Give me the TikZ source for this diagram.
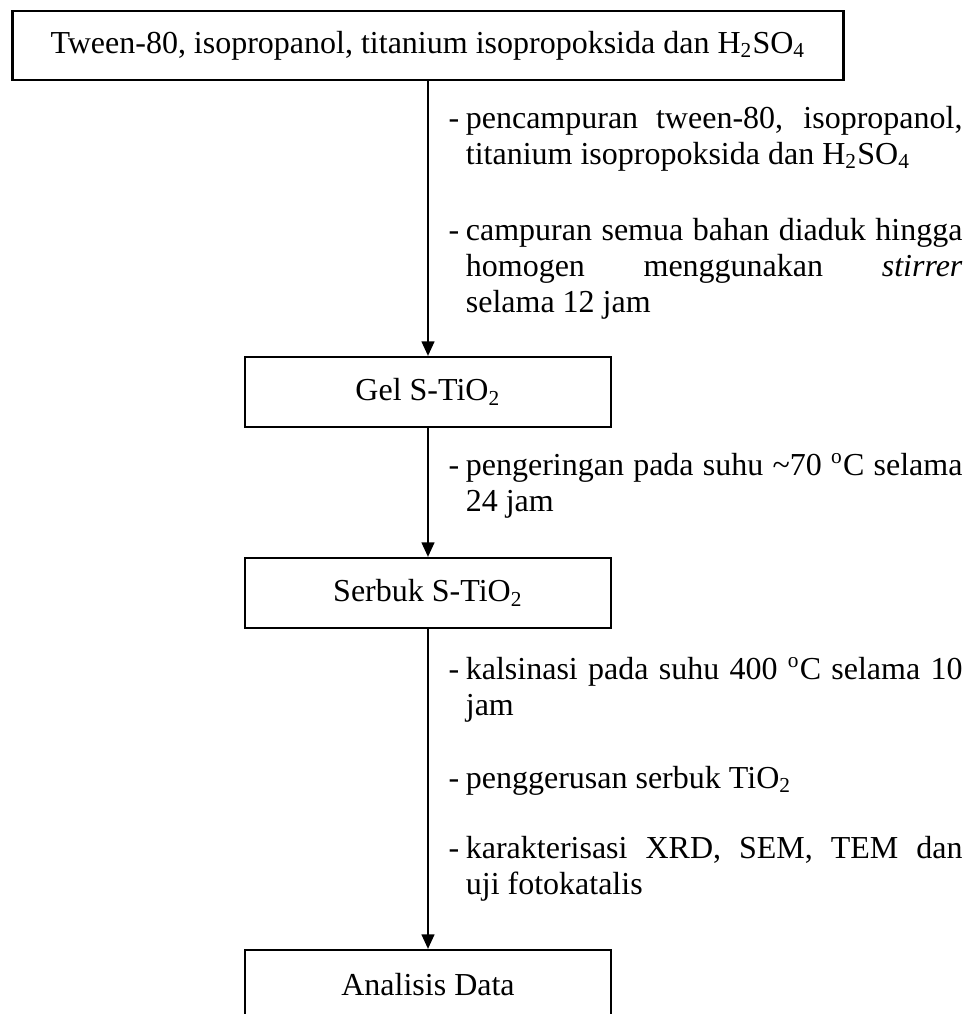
\documentclass[tikz,border=0pt]{standalone}
\usepackage{fontspec}
\setmainfont{Liberation Serif}
\usetikzlibrary{arrows.meta}
\newcommand\itm[1]{\makebox[6.5pt][l]{-}\parbox[t]{186.25pt}{\hyphenpenalty=10000\exhyphenpenalty=10000\tolerance=9999\relax #1}}
\begin{document}
\begin{tikzpicture}[x=0.375pt,y=-0.375pt,
  box/.style={draw,line width=0.8pt,inner sep=0pt,align=center,minimum height=26.25pt,font=\fontsize{12pt}{13.5pt}\selectfont},
  itemtext/.style={inner sep=0pt,anchor=base west,font=\fontsize{12pt}{13.5pt}\selectfont},
  flow/.style={line width=0.8pt,-{Triangle[length=5.5pt,width=4.8pt]}}]
\useasboundingbox (0,0) rectangle (969,1014);
\clip (0,0) rectangle (969,1014);
\node[box,minimum width=311.6pt,minimum height=25.9pt] (top) at (428,45.5) {Tween-80, isopropanol, titanium isopropoksida dan H\textsubscript{2}SO\textsubscript{4}};
\node[box,minimum width=137.25pt] (gel) at (428,392) {Gel S-TiO\textsubscript{2}};
\node[box,minimum width=137.25pt] (serbuk) at (428,593) {Serbuk S-TiO\textsubscript{2}};
\node[box,minimum width=137.25pt] (analisis) at (428,985) {Analisis Data};
\draw[flow] (top.south) -- (gel.north);
\draw[flow] (gel.south) -- (serbuk.north);
\draw[flow] (serbuk.south) -- (analisis.north);
\node[itemtext] (t1) at (448,128) {\itm{pencampuran tween-80, isopropanol,\linebreak titanium isopropoksida dan H\textsubscript{2}SO\textsubscript{4}}};
\node[itemtext] (t2) at (448,240) {\itm{campuran semua bahan diaduk hingga\linebreak homogen menggunakan \textit{stirrer}\linebreak selama 12 jam}};
\node[itemtext] (t3) at (448,475) {\itm{pengeringan pada suhu \textasciitilde70 \textsuperscript{o}C selama\linebreak 24 jam}};
\node[itemtext] (t4) at (448,679) {\itm{kalsinasi pada suhu 400 \textsuperscript{o}C selama 10\linebreak jam}};
\node[itemtext] (t5) at (448,788) {\itm{penggerusan serbuk TiO\textsubscript{2}}};
\node[itemtext] (t6) at (448,858) {\itm{karakterisasi XRD, SEM, TEM dan\linebreak uji fotokatalis}};
\end{tikzpicture}
\end{document}
